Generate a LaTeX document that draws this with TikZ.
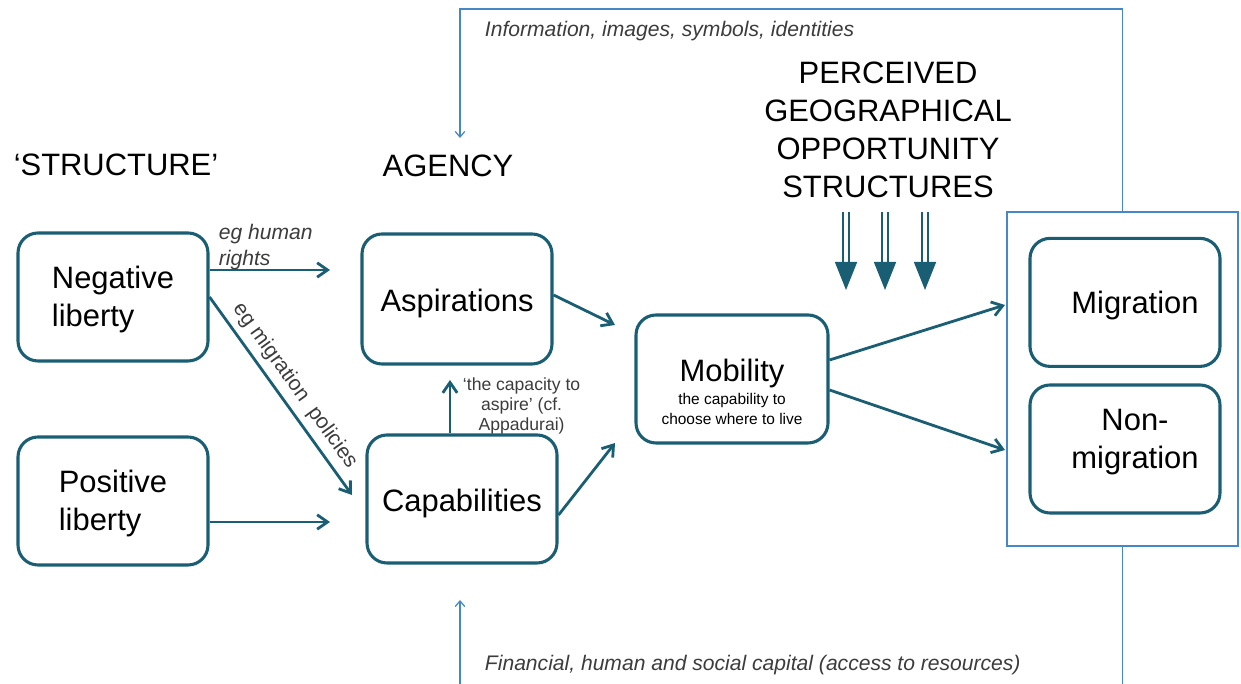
\documentclass[tikz,border=0pt]{standalone}
\usepackage{fontspec}
\setmainfont{Liberation Sans}
\usetikzlibrary{arrows.meta}

\definecolor{tealline}{RGB}{26,94,116}
\definecolor{framblue}{RGB}{70,135,200}
\definecolor{notegray}{RGB}{60,60,60}

\newcommand{\smalltxt}[1]{{\fontsize{11}{13.5}\selectfont #1}}

\begin{document}
\begin{tikzpicture}[
    box/.style={draw=tealline, line width=2.2pt, rounded corners=0.5cm,
        minimum width=4.75cm, minimum height=3.2cm, align=left,
        font=\fontsize{22}{27}\selectfont},
    flow/.style={draw=tealline, line width=2pt, -{Straight Barb[length=2.6mm,width=3.6mm]}},
    frame/.style={draw=framblue, line width=0.9pt},
    head/.style={font=\fontsize{22}{27}\selectfont, align=center},
    note/.style={font=\fontsize{15}{18}\selectfont\itshape, text=notegray, align=left}
    ]
    \useasboundingbox (0,0) rectangle (31.025,17.1);

        % Define nodes
        \node (struct) at (2.9,12.98) [head] {‘STRUCTURE’};
        \node (agency) at (11.2,12.95) [head] {AGENCY};
        \node (perc) at (22.2,13.85) [head] {PERCEIVED\\GEOGRAPHICAL\\OPPORTUNITY\\STRUCTURES};

        \node[box] (negl) at (2.825,9.675) {\strut Negative\\liberty};
        \node[box] (posl) at (2.825,4.575) {\strut Positive\\liberty};

        \node[box, minimum height=3.25cm] (asp) at (11.425,9.625) {\rule{0pt}{22pt}Aspirations};
        \node[box] (cap) at (11.55,4.625) {\rule{0pt}{22pt}Capabilities};

        \node[box, minimum width=4.8cm, align=center] (mob) at (18.3,7.625)
            {\rule{0pt}{34pt}Mobility\\[-10.5pt]\smalltxt{the capability to}\\[-12.5pt]\smalltxt{choose where to live}};

        \node[draw=framblue, line width=0.9pt, minimum width=5.775cm, minimum height=8.35cm] (outer) at (28.06,7.625) {};
        \node[box] (mig) at (28.125,9.54) {\hspace{0.5cm}\rule{0pt}{21pt}Migration};
        \node[box, align=center] (nonmig) at (28.125,5.875) {\hspace{0.5cm}Non-\\\hspace{0.5cm}migration\rule[-14pt]{0pt}{0pt}};

        \node[note, anchor=west] (info) at (12.0,16.32) {Information, images, symbols, identities};
        \node[note, anchor=west] (fin) at (12.0,0.475) {Financial, human and social capital (access to resources)};

        % Free ends
        \coordinate (hr) at (8.25,10.35);
        \coordinate (mp) at (8.8,4.725);
        \coordinate (pl) at (8.25,4.05);
        \coordinate (am) at (15.375,8.975);
        \coordinate (cm) at (15.375,6.025);
        \coordinate (mg) at (25.125,9.475);
        \coordinate (nm) at (25.125,5.85);

        % Draw edges
        \draw[flow] ([yshift=0.675cm]negl.east) -- (hr)
            node[note, midway, above=-4pt, xshift=-0.1cm] (hrl) {eg human\\rights};
        \draw[flow] (negl.east) -- (mp)
            node[midway, sloped, above=1pt, font=\fontsize{15}{18}\selectfont, text=notegray] (mpl) {eg migration\ \ policies};
        \draw[flow] ([yshift=-0.525cm]posl.east) -- (pl);

        \draw[flow] (cap.north -| 11.25,0) -- (11.25,7.6);
        \node[font=\fontsize{12.5}{14.2}\selectfont, text=notegray, align=center, anchor=west] (appa) at (11.45,6.95)
            {‘the capacity to\\aspire’ (cf.\\Appadurai)};

        \draw[flow] ([yshift=0.1cm]asp.east) -- (am);
        \draw[flow] ([yshift=-0.4cm]cap.east) -- (cm);
        \draw[flow] ([yshift=0.475cm]mob.east) -- (mg);
        \draw[flow] ([yshift=-0.275cm]mob.east) -- (nm);

        % Opportunity structures
        \foreach \x [count=\i] in {21.15,22.125,23.125} {
            \coordinate (d\i) at (\x,11.8);
            \draw[tealline, line width=1.6pt, double=white, double distance=2.4pt] (d\i) -- ++(0,-1.3);
            \fill[tealline] ([xshift=-0.28cm,yshift=-1.25cm]d\i) -- ++(0.56,0) -- ([yshift=-1.95cm]d\i) -- cycle;
        }

        % Feedback frame
        \coordinate (ftop) at (11.5,16.875);
        \coordinate (fbot) at (11.5,0);
        \draw[frame, -{Straight Barb[length=1.4mm,width=2.4mm]}] (outer.north) |- (ftop) -- (11.5,13.65);
        \draw[frame] (outer.south) -- (outer.south |- fbot);
        \draw[frame, -{Straight Barb[length=1.4mm,width=2.4mm]}] (fbot) -- (11.5,2.1);

    \end{tikzpicture}
\end{document}
